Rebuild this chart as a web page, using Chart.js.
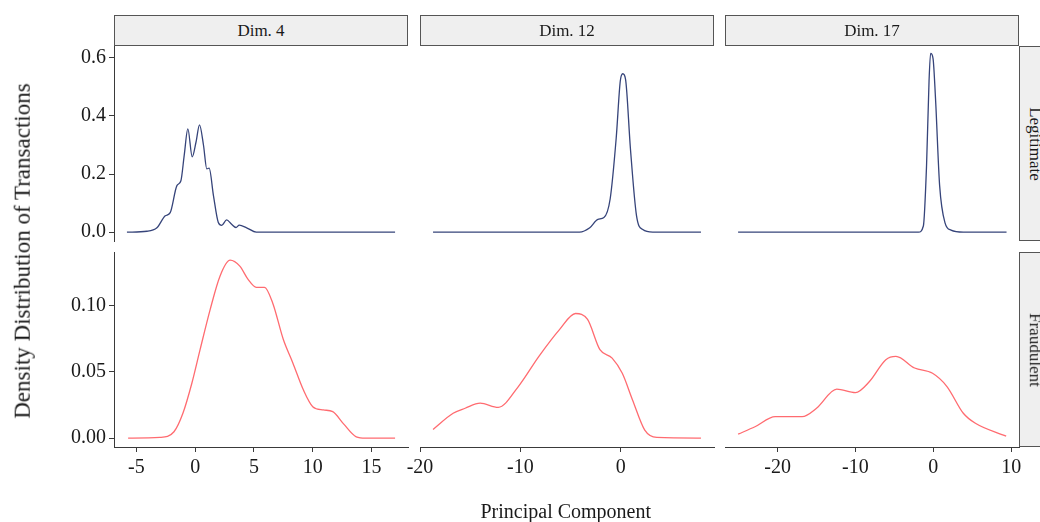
<!DOCTYPE html>
<html>
<head>
<meta charset="utf-8">
<script src="https://cdn.jsdelivr.net/npm/chart.js@4.4.1/dist/chart.umd.min.js"></script>
<style>
  body { margin: 0; background: #fff; }
  #wrap { position: relative; width: 1040px; height: 522px; overflow: hidden; font-family: "Liberation Serif", serif; color: #1a1a1a; }
  #wrap canvas { position: absolute; left: 0; top: 0; }
  .strip { position: absolute; box-sizing: border-box; background: #efefef; border: 1px solid #555; font-size: 17px;
           display: flex; align-items: center; justify-content: center; white-space: nowrap; }
  .strip.side span { transform: rotate(90deg); }
  .title { position: absolute; font-size: 20px; white-space: nowrap; }
  .title.y { font-size: 23px; }
</style>
</head>
<body>
<div id="wrap"></div>
<script>
const dims = ['Dim. 4', 'Dim. 12', 'Dim. 17'];
const classes = ['Legitimate', 'Fraudulent'];

// density curves (x = principal component, y = density)
const dim4LegitX  = [-5.8, -4.1, -3.25, -2.54, -2.12, -1.55, -1.21, -0.93, -0.62, -0.25, 0.08, 0.37, 0.71, 0.99, 1.19, 1.56, 1.97, 2.26, 2.68, 3.1, 3.47, 3.75, 4.38, 5.2, 17.0];
const dim4LegitY  = [0, 0.003, 0.015, 0.056, 0.067, 0.16, 0.177, 0.264, 0.355, 0.259, 0.311, 0.369, 0.299, 0.218, 0.22, 0.125, 0.033, 0.023, 0.042, 0.027, 0.016, 0.024, 0.015, 0, 0];
const dim12LegitX = [-18.7, -4.1, -3.08, -2.27, -1.67, -1.05, -0.45, -0.04, 0.21, 0.49, 0.97, 1.58, 2.2, 3.2, 8.0];
const dim12LegitY = [0, 0, 0.015, 0.044, 0.05, 0.114, 0.322, 0.52, 0.545, 0.525, 0.288, 0.056, 0.009, 0, 0];
const dim17LegitX = [-25.07, -1.9, -1.28, -0.87, -0.55, -0.35, -0.04, 0.28, 0.81, 1.49, 2.27, 3.85, 9.4];
const dim17LegitY = [0, 0, 0.021, 0.23, 0.52, 0.615, 0.598, 0.46, 0.16, 0.033, 0.007, 0, 0];

const dim4FraudX  = [-5.7, -3.0, -1.8, -1.04, -0.28, 0.42, 1.27, 2.12, 2.97, 3.8, 4.5, 5.2, 5.9, 6.6, 7.5, 8.3, 9.2, 10.0, 10.9, 11.7, 12.6, 13.7, 14.5, 17.0];
const dim4FraudY  = [0, 0.0005, 0.0048, 0.0188, 0.0415, 0.0669, 0.097, 0.1226, 0.1345, 0.130, 0.120, 0.114, 0.114, 0.102, 0.0745, 0.057, 0.0365, 0.0238, 0.0213, 0.020, 0.011, 0.001, 0, 0];
const dim12FraudX = [-18.7, -16.7, -15.5, -14.0, -12.2, -10.2, -8.15, -6.1, -4.5, -3.3, -2.07, -0.85, 0.16, 1.18, 2.4, 3.6, 8.0];
const dim12FraudY = [0.0066, 0.0188, 0.0226, 0.0264, 0.0233, 0.039, 0.0618, 0.082, 0.0942, 0.0897, 0.0669, 0.0605, 0.049, 0.0289, 0.0061, 0.0005, 0];
const dim17FraudX = [-25.07, -22.9, -20.3, -16.85, -15.0, -12.4, -10.0, -8.2, -6.1, -4.8, -2.4, -0.1, 1.75, 3.85, 5.4, 9.35];
const dim17FraudY = [0.003, 0.0086, 0.0162, 0.0162, 0.0226, 0.037, 0.0344, 0.0428, 0.0593, 0.0618, 0.053, 0.049, 0.039, 0.0188, 0.0112, 0.0015];

// axis ticks
const legitTicks = [0, 0.2, 0.4, 0.6];
const fraudTicks = [0, 0.05, 0.10];
const dim4Ticks  = [-5, 0, 5, 10, 15];
const dim12Ticks = [-20, -10, 0];
const dim17Ticks = [-20, -10, 0, 10];

const series = [
  [[dim4LegitX, dim4LegitY], [dim12LegitX, dim12LegitY], [dim17LegitX, dim17LegitY]],
  [[dim4FraudX, dim4FraudY], [dim12FraudX, dim12FraudY], [dim17FraudX, dim17FraudY]]
];
const xTicks = [dim4Ticks, dim12Ticks, dim17Ticks];
const yTicks = [legitTicks, fraudTicks];
const xRange = [[-6.9, 18.1], [-20.0, 9.3], [-26.75, 11.0]];
const yRange = [[-0.0305, 0.6405], [-0.0067, 0.1407]];
const yDigits = [1, 2];
const lineColors = ['#36447a', '#ff6b70'];

// panel layout
const W = 1040, H = 522;
const colLeft = [114, 420, 725], panelW = 294;
const rowTop = [46, 252], panelH = 195;
const yAxisW = 70, xAxisH = 40;

const wrap = document.getElementById('wrap');
const font = { family: '"Liberation Serif", serif', size: 20 };

series.forEach((row, r) => {
  row.forEach(([xs, ys], c) => {
    const canvas = document.createElement('canvas');
    canvas.width = W; canvas.height = H;
    wrap.appendChild(canvas);
    const hasY = c === 0, hasX = r === 1;
    new Chart(canvas, {
      type: 'line',
      data: {
        datasets: [{
          data: xs.map((x, i) => ({ x, y: ys[i] })),
          borderColor: lineColors[r],
          borderWidth: 1.3,
          pointRadius: 0,
          cubicInterpolationMode: 'monotone',
          fill: false
        }]
      },
      options: {
        responsive: false,
        animation: false,
        devicePixelRatio: 1,
        events: [],
        layout: {
          padding: {
            left: colLeft[c] - (hasY ? yAxisW : 0),
            top: rowTop[r],
            right: W - colLeft[c] - panelW,
            bottom: H - rowTop[r] - panelH - (hasX ? xAxisH : 0)
          }
        },
        plugins: { legend: { display: false }, tooltip: { enabled: false } },
        scales: {
          x: {
            type: 'linear', bounds: 'data', min: xRange[c][0], max: xRange[c][1],
            display: hasX,
            afterFit: s => { s.height = hasX ? xAxisH : 0; s.paddingLeft = 0; s.paddingRight = 0; },
            afterBuildTicks: s => { s.ticks = xTicks[c].map(v => ({ value: v })); },
            border: { display: true, color: '#3a3a3a', width: 1 },
            grid: { drawOnChartArea: false, drawTicks: true, tickLength: 5, color: '#3a3a3a' },
            ticks: { autoSkip: false, maxRotation: 0, padding: 4, color: '#1a1a1a', font, callback: v => String(v) }
          },
          y: {
            type: 'linear', bounds: 'data', min: yRange[r][0], max: yRange[r][1],
            display: hasY,
            afterFit: s => { s.width = hasY ? yAxisW : 0; s.paddingTop = 0; s.paddingBottom = 0; },
            afterBuildTicks: s => { s.ticks = yTicks[r].map(v => ({ value: v })); },
            border: { display: true, color: '#3a3a3a', width: 1 },
            grid: { drawOnChartArea: false, drawTicks: true, tickLength: 5, color: '#3a3a3a' },
            ticks: { autoSkip: false, padding: 3, color: '#1a1a1a', font, callback: v => v.toFixed(yDigits[r]) }
          }
        }
      }
    });
  });
});

// facet strips
dims.forEach((d, c) => {
  const el = document.createElement('div');
  el.className = 'strip';
  el.style.cssText = `left:${colLeft[c]}px; top:15px; width:${panelW}px; height:31px;`;
  el.innerHTML = `<span>${d}</span>`;
  wrap.appendChild(el);
});
classes.forEach((k, r) => {
  const el = document.createElement('div');
  el.className = 'strip side';
  el.style.cssText = `left:1019px; top:${rowTop[r]}px; width:32px; height:${panelH}px;`;
  el.innerHTML = `<span>${k}</span>`;
  wrap.appendChild(el);
});

// axis titles
const yTitle = document.createElement('div');
yTitle.className = 'title y';
yTitle.textContent = 'Density Distribution of Transactions';
wrap.appendChild(yTitle);
yTitle.style.left = (22 - yTitle.offsetWidth / 2) + 'px';
yTitle.style.top = (251 - yTitle.offsetHeight / 2) + 'px';
yTitle.style.transform = 'rotate(-90deg)';

const xTitle = document.createElement('div');
xTitle.className = 'title';
xTitle.textContent = 'Principal Component';
wrap.appendChild(xTitle);
xTitle.style.left = (566 - xTitle.offsetWidth / 2) + 'px';
xTitle.style.top = (511 - xTitle.offsetHeight / 2) + 'px';
</script>
</body>
</html>
